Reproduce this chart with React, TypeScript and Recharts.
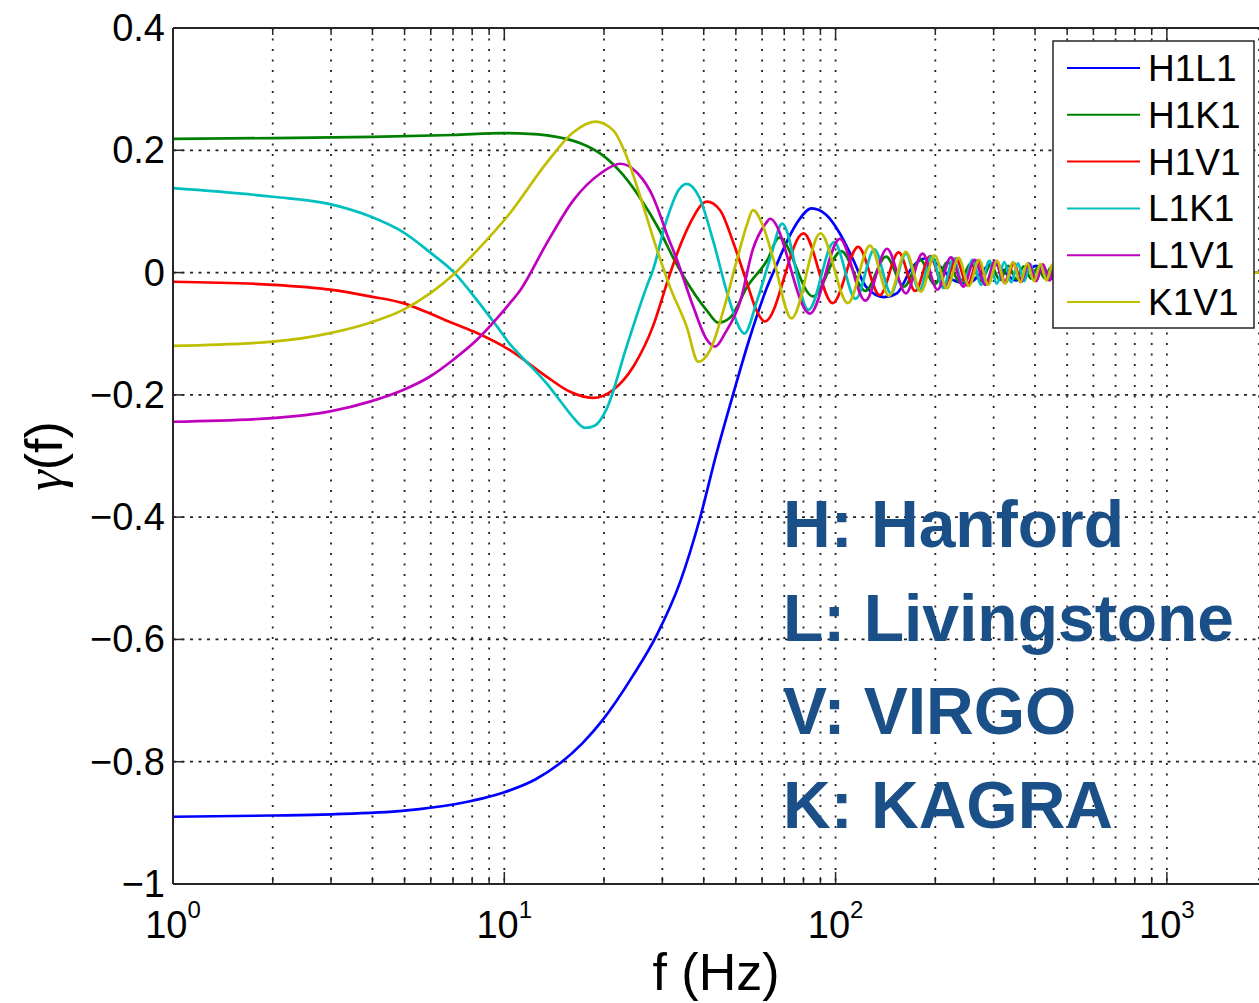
import React from 'react';
import { LineChart, Line, XAxis, YAxis, CartesianGrid, ReferenceLine } from 'recharts';

// frequencies (Hz) and overlap reduction values
const h1l1Freq = [1, 2, 3, 5, 7, 10, 12.4, 14.7, 17.2, 19.8, 24.4, 28.9, 34, 39, 43.6, 49, 55.2, 62, 66.3, 69.5, 76.2, 84.7, 93.8, 103, 113, 123.5, 140, 153, 171, 186, 202, 226, 249, 300, 350, 403, 455, 505, 560, 1897];
const h1l1Gamma = [-0.89, -0.888, -0.886, -0.88, -0.87, -0.85, -0.829, -0.803, -0.77, -0.732, -0.66, -0.592, -0.505, -0.401, -0.298, -0.2, -0.105, -0.025, 0.012, 0.038, 0.08, 0.105, 0.094, 0.064, 0.021, -0.023, -0.04, -0.034, 0.01, 0.023, 0.015, -0.012, -0.018, 0.015, -0.013, 0.011, -0.01, 0.009, 0, 0];

const h1k1Freq = [1, 2, 4, 7, 10, 11.9, 15, 16.9, 19.8, 22.8, 25.7, 29.5, 32.3, 36.4, 41, 44.2, 48, 54, 62.3, 67.5, 85.5, 104, 123, 142, 161, 180, 199, 218, 237, 256, 275, 294, 313, 332, 351, 370, 389, 408, 427, 446, 465, 520, 1897];
const h1k1Gamma = [0.2185, 0.22, 0.222, 0.225, 0.228, 0.227, 0.22, 0.212, 0.192, 0.16, 0.122, 0.068, 0.025, -0.024, -0.063, -0.082, -0.074, -0.024, 0.021, 0.057, -0.039, 0.035, -0.03, 0.026, -0.023, 0.021, -0.019, 0.017, -0.016, 0.015, -0.014, 0.013, -0.012, 0.011, -0.011, 0.01, -0.01, 0.009, -0.009, 0.008, -0.008, 0, 0];

const h1v1Freq = [1, 2, 2.98, 3.93, 4.95, 5.97, 7, 8.27, 10.4, 13.4, 15.8, 18.5, 21.3, 24.5, 28.1, 31.5, 34, 36.4, 40.9, 44.8, 49.2, 54.1, 57.6, 61.2, 80, 98, 117, 136, 155, 174, 193, 212, 231, 250, 269, 288, 307, 326, 345, 364, 383, 402, 421, 440, 459, 520, 1897];
const h1v1Gamma = [-0.015, -0.02, -0.028, -0.039, -0.05, -0.067, -0.083, -0.099, -0.127, -0.17, -0.195, -0.205, -0.192, -0.154, -0.088, -0.005, 0.045, 0.081, 0.116, 0.102, 0.048, -0.018, -0.061, -0.08, 0.064, -0.05, 0.042, -0.037, 0.033, -0.03, 0.027, -0.025, 0.023, -0.021, 0.02, -0.019, 0.018, -0.017, 0.016, -0.015, 0.014, -0.013, 0.013, -0.012, 0.012, 0, 0];

const l1k1Freq = [1, 2, 2.98, 3.93, 4.95, 5.97, 7, 8.27, 9.5, 10.4, 11.2, 13.4, 15, 16.2, 17.5, 18.8, 20.4, 23.4, 26.9, 28.1, 30.9, 33.6, 35.5, 38.7, 42.9, 47.1, 51.7, 53, 58, 63.7, 69, 82.8, 99, 115, 131, 147, 163, 179, 195, 211, 227, 243, 259, 275, 291, 307, 323, 339, 355, 371, 387, 403, 419, 435, 451, 467, 520, 1897];
const l1k1Gamma = [0.138, 0.124, 0.112, 0.092, 0.066, 0.033, 0.002, -0.045, -0.088, -0.117, -0.136, -0.181, -0.215, -0.238, -0.254, -0.25, -0.222, -0.121, -0.023, 0.004, 0.086, 0.135, 0.145, 0.124, 0.048, -0.034, -0.094, -0.1, -0.045, 0.026, 0.08, -0.061, 0.05, -0.043, 0.038, -0.034, 0.031, -0.029, 0.027, -0.025, 0.023, -0.022, 0.021, -0.02, 0.019, -0.018, 0.017, -0.016, 0.015, -0.014, 0.014, -0.013, 0.012, -0.012, 0.011, -0.011, 0, 0];

const l1v1Freq = [1, 2, 2.98, 3.93, 4.95, 5.97, 7, 8.27, 9.5, 10.4, 11.2, 13.4, 16.2, 19.5, 22.4, 25.3, 28.1, 29.5, 30.9, 33.2, 37.2, 40.9, 43.3, 46.4, 51.7, 56.2, 61.7, 63.4, 83.7, 103, 123, 143, 163, 183, 203, 223, 243, 263, 283, 303, 323, 343, 363, 383, 403, 423, 443, 463, 520, 1897];
const l1v1Gamma = [-0.244, -0.238, -0.227, -0.211, -0.192, -0.17, -0.143, -0.11, -0.075, -0.05, -0.028, 0.047, 0.119, 0.162, 0.178, 0.162, 0.124, 0.095, 0.064, 0.021, -0.056, -0.11, -0.121, -0.099, -0.045, 0.037, 0.081, 0.088, -0.067, 0.055, -0.046, 0.039, -0.034, 0.031, -0.028, 0.025, -0.023, 0.021, -0.02, 0.019, -0.017, 0.016, -0.015, 0.015, -0.014, 0.013, -0.013, 0.012, 0, 0];

const k1v1Freq = [1, 2, 2.98, 3.93, 4.95, 5.97, 7, 8.27, 10.4, 13.4, 16.2, 18.8, 21.3, 23.4, 25.7, 28.8, 31.6, 35.5, 38.5, 41.8, 45.9, 50.4, 54.2, 56.3, 60.5, 65, 73.6, 90, 109, 127, 145, 163, 181, 199, 217, 235, 253, 271, 289, 307, 325, 343, 361, 379, 397, 415, 433, 451, 469, 520, 1897];
const k1v1Gamma = [-0.12, -0.113, -0.099, -0.082, -0.061, -0.034, -0.004, 0.036, 0.097, 0.179, 0.23, 0.247, 0.233, 0.19, 0.125, 0.04, -0.023, -0.088, -0.146, -0.127, -0.061, 0.021, 0.081, 0.102, 0.075, 0.021, -0.075, 0.064, -0.05, 0.044, -0.038, 0.034, -0.031, 0.028, -0.026, 0.024, -0.022, 0.021, -0.02, 0.019, -0.018, 0.017, -0.016, 0.015, -0.014, 0.014, -0.013, 0.013, -0.012, 0, 0];

const seriesNames = ['H1L1', 'H1K1', 'H1V1', 'L1K1', 'L1V1', 'K1V1'];
const seriesColors = ['#0000ff', '#008000', '#ff0000', '#00bfbf', '#bf00bf', '#bfbf00'];
const seriesFreqs = [h1l1Freq, h1k1Freq, h1v1Freq, l1k1Freq, l1v1Freq, k1v1Freq];
const seriesGammas = [h1l1Gamma, h1k1Gamma, h1v1Gamma, l1k1Gamma, l1v1Gamma, k1v1Gamma];

const xTicks = [1, 2, 3, 4, 5, 6, 7, 8, 9, 10, 20, 30, 40, 50, 60, 70, 80, 90, 100, 200, 300, 400, 500, 600, 700, 800, 900, 1000];
const yTicks = [0.4, 0.2, 0, -0.2, -0.4, -0.6, -0.8, -1];
const detectorNotes = ['H: Hanford', 'L: Livingstone', 'V: VIRGO', 'K: KAGRA'];

const W = 1259;
const H = 1003;
const PLOT_TOP = 28;
const PLOT_BOTTOM = 884;
const AXIS = '#262626';
const FONT = '"Liberation Sans", Arial, Helvetica, sans-serif';

const toPoints = (f: number[], g: number[]) => f.map((v, i) => ({ f: v, g: g[i] }));

function XTick(props: any) {
  const { x, y, payload } = props;
  const v = payload.value as number;
  const exp = Math.log10(v);
  const major = Math.abs(exp - Math.round(exp)) < 1e-6;
  const len = major ? 12 : 7;
  const top = y - (PLOT_BOTTOM - PLOT_TOP);
  return (
    <g>
      <line x1={x} x2={x} y1={y} y2={y - len} stroke={AXIS} strokeWidth={1.5} />
      <line x1={x} x2={x} y1={top} y2={top + len} stroke={AXIS} strokeWidth={1.5} />
      {major && (
        <text x={x} y={y + 54} textAnchor="middle" fontFamily={FONT} fontSize={38} fill="#000">
          10
          <tspan dy={-20} fontSize={24}>{Math.round(exp)}</tspan>
        </text>
      )}
    </g>
  );
}

function YTick(props: any) {
  const { x, y, payload } = props;
  const v = payload.value as number;
  const abs = Math.abs(v);
  const label = (v < 0 ? '\u2212' : '') + (abs === 0 ? '0' : abs === 1 ? '1' : abs.toFixed(1));
  return (
    <g>
      <line x1={x} x2={x + 11} y1={y} y2={y} stroke={AXIS} strokeWidth={1.5} />
      <text x={x - 8} y={y + 13} textAnchor="end" fontFamily={FONT} fontSize={38} fill="#000">
        {label}
      </text>
    </g>
  );
}

export default function App() {
  return (
    <div style={{ position: 'fixed', left: 0, top: 0, width: W, height: H, background: '#fff', overflow: 'hidden' }}>
      <LineChart width={W} height={H} margin={{ top: PLOT_TOP, right: 0, bottom: 0, left: 0 }}>
        <CartesianGrid horizontal={false} stroke="#222" strokeWidth={1.8} strokeDasharray="2 8.5" />
        <CartesianGrid vertical={false} stroke="#222" strokeWidth={1.8} strokeDasharray="3 5.5" />
        <XAxis
          dataKey="f"
          type="number"
          scale="log"
          domain={[1, 1897]}
          allowDataOverflow
          ticks={xTicks}
          interval={0}
          tickSize={0}
          tickMargin={0}
          tickLine={false}
          tick={(p: any) => <XTick {...p} />}
          height={H - PLOT_BOTTOM}
          axisLine={{ stroke: AXIS, strokeWidth: 2 }}
        />
        <YAxis
          type="number"
          domain={[-1, 0.4]}
          allowDataOverflow
          ticks={yTicks}
          interval={0}
          tickSize={0}
          tickMargin={0}
          tickLine={false}
          tick={(p: any) => <YTick {...p} />}
          width={173}
          axisLine={{ stroke: AXIS, strokeWidth: 2 }}
        />
        <ReferenceLine y={0.4} stroke={AXIS} strokeWidth={2} />
        {seriesNames.map((name, i) => (
          <Line
            key={name}
            name={name}
            data={toPoints(seriesFreqs[i], seriesGammas[i])}
            dataKey="g"
            type="monotone"
            stroke={seriesColors[i]}
            strokeWidth={2.7}
            dot={false}
            activeDot={false}
            isAnimationActive={false}
          />
        ))}
      </LineChart>
      <svg width={W} height={H} style={{ position: 'absolute', left: 0, top: 0, pointerEvents: 'none' }}>
        <text x={716} y={990} textAnchor="middle" fontFamily={FONT} fontSize={52} fill="#000">f (Hz)</text>
        <text x={62} y={456} textAnchor="middle" fontFamily={FONT} fontSize={52} fill="#000" transform="rotate(-90 62 456)">
          <tspan fontFamily={'"Liberation Serif", "DejaVu Serif", serif'} fontStyle="italic">γ</tspan>(f)
        </text>
        <rect x={1053} y={41} width={201} height={287} fill="#fff" stroke={AXIS} strokeWidth={1.5} />
        {seriesNames.map((name, i) => {
          const cy = 68 + i * 46.8;
          return (
            <g key={name}>
              <line x1={1067} x2={1140} y1={cy} y2={cy} stroke={seriesColors[i]} strokeWidth={2} />
              <text x={1148} y={cy + 13} fontFamily={FONT} fontSize={37} fill="#000">{name}</text>
            </g>
          );
        })}
        {detectorNotes.map((t, i) => (
          <text key={t} x={783} y={547 + i * 93.7} fontFamily={FONT} fontWeight={700} fontSize={66} fill="#1a4f88">
            {t}
          </text>
        ))}
      </svg>
    </div>
  );
}
